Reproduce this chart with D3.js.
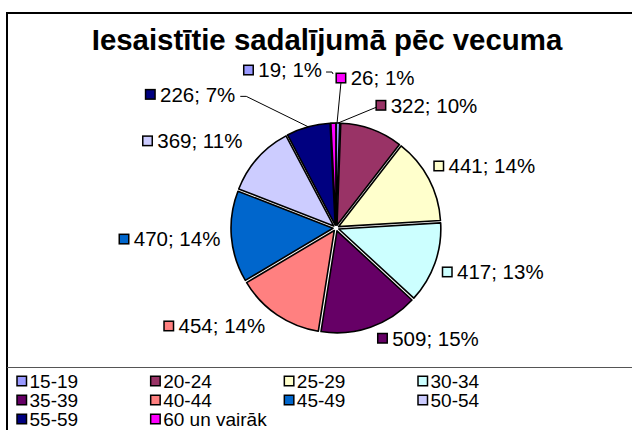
<!DOCTYPE html>
<html>
<head>
<meta charset="utf-8">
<script src="https://cdn.jsdelivr.net/npm/d3@7"></script>
<style>
  body { margin: 0; background: #fff; }
  svg { display: block; font-family: Arial, "Liberation Sans", sans-serif; }
</style>
</head>
<body>
<div id="graph"></div>
<script>
var title     = "Iesaistītie sadalījumā pēc vecuma"
var ageGroups = ["15-19", "20-24", "25-29", "30-34", "35-39", "40-44", "45-49", "50-54", "55-59", "60 un vairāk"]
var counts    = [19, 322, 441, 417, 509, 454, 470, 369, 226, 26]
var percents  = [1, 10, 14, 13, 15, 14, 14, 11, 7, 1]
var colors    = ["#9999FF", "#993366", "#FFFFCC", "#CCFFFF", "#660066", "#FF8080", "#0066CC", "#CCCCFF", "#000080", "#FF00FF"]

var width = 632, height = 430
var cx = 336, cy = 228, r = 102, explode = 3  // pie centre, radius, slice offset
var labelPad = 10
var swatch = 9.5

// label moves (layout only): [dx, dy, side] side 1 = label grows right, -1 = grows left
var nudge = {
  0: [-16, -36, -1], 1: [2, -8], 2: [-1, -5], 3: [1, 3], 4: [5, -5],
  5: [-8, -3], 6: [-4, 1], 7: [-10, -6], 8: [-71, -16], 9: [3, -28, 1]
}

var svg = d3.select('#graph').html('').append('svg')
  .attr('width', width)
  .attr('height', height)

// chart frame, runs off the right and bottom edge
svg.append('rect')
  .attr('x', 7).attr('y', 13)
  .attr('width', width + 20).attr('height', height + 20)
  .attr('fill', '#fff')
  .attr('stroke', '#000')
  .attr('stroke-width', 2)

svg.append('text')
  .attr('x', 327).attr('y', 50)
  .attr('text-anchor', 'middle')
  .attr('font-size', '29.4px')
  .attr('font-weight', 'bold')
  .text(title)

/*
  Pie
*/
var pie = d3.pie().sort(null).value(d => d)
var arcs = pie(counts)
var arc = d3.arc().innerRadius(0).outerRadius(r)
var mid = d => (d.startAngle + d.endAngle) / 2

var pieG = svg.append('g').attr('transform', `translate(${cx},${cy})`)

pieG.selectAll('path.slice').data(arcs).join('path')
  .attr('class', 'slice')
  .attr('transform', d => `translate(${explode * Math.sin(mid(d))},${-explode * Math.cos(mid(d))})`)
  .attr('d', arc)
  .attr('fill', (d, i) => colors[i])
  .attr('stroke', '#000')
  .attr('stroke-width', 1.6)
  .attr('stroke-linejoin', 'round')

/*
  Data labels
*/
var labG = pieG.append('g')
var boxes = []
arcs.forEach((d, i) => {
  var a = mid(d)
  var n = nudge[i] || [0, 0]
  var g = labG.append('g')
  var t = g.append('text')
    .attr('font-size', '20.5px')
    .text(counts[i] + '; ' + percents[i] + '%')
  var w = swatch + 5 + t.node().getComputedTextLength()
  var px = (r + labelPad) * Math.sin(a), py = -(r + labelPad) * Math.cos(a)
  var side = n[2] || (Math.sin(a) >= 0 ? 1 : -1)
  var left = side > 0 ? px + n[0] : px + n[0] - w
  var by = py - 10 * Math.cos(a) + n[1]
  g.append('rect')
    .attr('x', left).attr('y', by - swatch / 2)
    .attr('width', swatch).attr('height', swatch)
    .attr('fill', colors[i])
    .attr('stroke', '#000')
    .attr('stroke-width', 1.5)
  t.attr('x', left + swatch + 5).attr('y', by + 7.3)
  boxes[i] = { left: left, right: left + w, cy: by }
})

// leader lines
var edge = (ang) => [(r + explode) * Math.sin(ang), -(r + explode) * Math.cos(ang)]
var leaders = []
var b
b = boxes[8]; leaders.push([[b.right + 5, b.cy + 2], [b.right + 11, b.cy + 2], edge(mid(arcs[8]))])
b = boxes[0]; leaders.push([[b.right + 4, b.cy + 2], [b.right + 10, b.cy + 2], [b.right + 11, b.cy + 4]])
b = boxes[9]; leaders.push([[b.left + swatch / 2, b.cy + swatch / 2], edge(0.01)])
b = boxes[1]; leaders.push([[b.left, b.cy + 2], edge(0.02)])

labG.selectAll('path.leader').data(leaders).join('path')
  .attr('class', 'leader')
  .attr('d', d3.line())
  .attr('fill', 'none')
  .attr('stroke', '#000')
  .attr('stroke-width', 1)

/*
  Legend
*/
svg.append('line')
  .attr('x1', 7).attr('x2', width)
  .attr('y1', 367.5).attr('y2', 367.5)
  .attr('stroke', '#555')

var legX = d3.scalePoint().domain(d3.range(4)).range([17, 418])
var legY = d3.scalePoint().domain(d3.range(3)).range([381, 419])

var leg = svg.selectAll('g.leg').data(ageGroups).join('g')
  .attr('class', 'leg')
  .attr('transform', (d, i) => `translate(${legX(i % 4)},${legY(Math.floor(i / 4))})`)

leg.append('rect')
  .attr('x', 0).attr('y', -swatch / 2)
  .attr('width', swatch).attr('height', swatch)
  .attr('fill', (d, i) => colors[i])
  .attr('stroke', '#000')
  .attr('stroke-width', 1.5)

leg.append('text')
  .attr('x', swatch + 3).attr('y', 6.8)
  .attr('font-size', '19px')
  .text(d => d)
</script>
</body>
</html>
